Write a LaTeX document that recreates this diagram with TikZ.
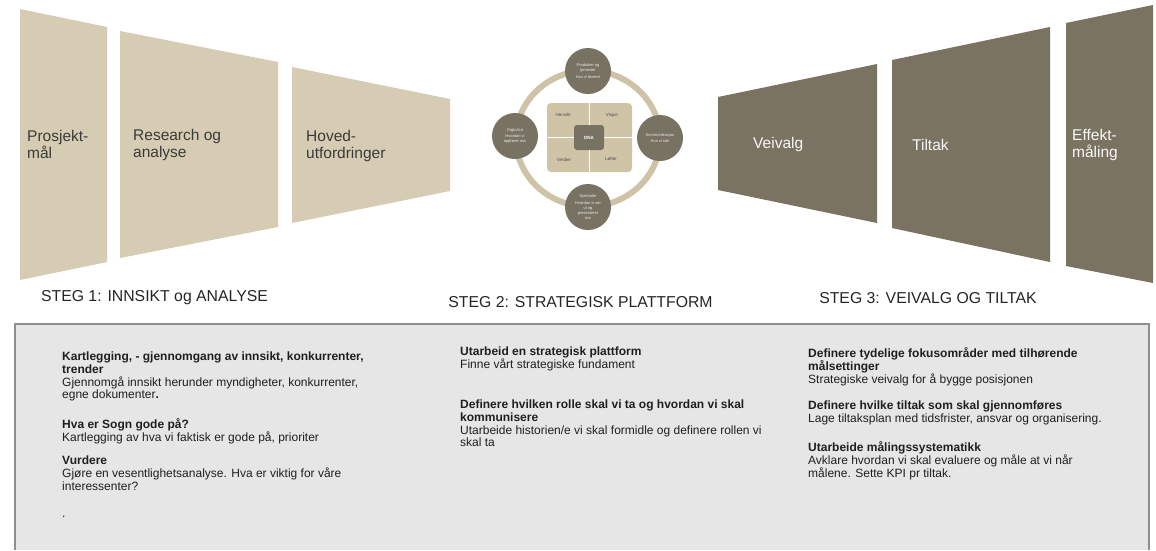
\documentclass[tikz,border=0pt]{standalone}
\usepackage{fontspec}
\setmainfont{Liberation Sans}
\definecolor{lighttan}{HTML}{D6CCB4}
\definecolor{darkolive}{HTML}{7A7361}
\definecolor{ringtan}{HTML}{CEC3A6}
\definecolor{circdark}{HTML}{787262}
\definecolor{innertan}{HTML}{CFC4A6}
\definecolor{boxfill}{HTML}{E6E6E6}
\definecolor{boxline}{HTML}{8F8F8F}
\definecolor{labeltext}{HTML}{3A3A3A}
\tikzset{
  traplight/.style={fill=lighttan, draw=none},
  trapdark/.style={fill=darkolive, draw=none},
  traptext/.style={anchor=west, align=left, inner sep=0pt, text=labeltext, font=\fontsize{15.5}{17}\selectfont},
  traptextw/.style={traptext, text=white!94!darkolive},
  steglabel/.style={inner sep=0pt, text=black!85, font=\fontsize{15.8}{18}\selectfont},
  satellite/.style={circle, fill=circdark, draw=none, minimum size=46pt, inner sep=0pt, align=center, text=white!92!black, font=\fontsize{4}{5}\selectfont},
  quadtext/.style={inner sep=0pt, text=black!70, font=\fontsize{4.5}{5}\selectfont},
  bodytext/.style={anchor=north west, align=left, inner sep=0pt, text=black!88, font=\fontsize{12}{12.8}\selectfont}
}
\begin{document}
\begin{tikzpicture}[x=1pt, y=-1pt]
\useasboundingbox (0,0) rectangle (1156,550);
\fill[white] (0,0) rectangle (1156,550);

% left trapezoids
\fill[traplight] (20,9) -- (107,27) -- (107,262) -- (20,280) -- cycle;
\fill[traplight] (120,31) -- (278,62) -- (278,227) -- (120,258) -- cycle;
\fill[traplight] (292,67) -- (450,99) -- (450,191) -- (292,223) -- cycle;
% right trapezoids
\fill[trapdark] (718,97) -- (877,64) -- (877,223) -- (718,190) -- cycle;
\fill[trapdark] (892,60) -- (1050,27) -- (1050,262) -- (892,228) -- cycle;
\fill[trapdark] (1066,23) -- (1153,5) -- (1153,283) -- (1066,266) -- cycle;

\node[traptext] (t1) at (27,144.5) {Prosjekt-\\mål};
\node[traptext] (t2) at (133,145) {Research og\\analyse};
\node[traptext] (t3) at (306,145.5) {Hoved-\\utfordringer};
\node[traptextw] (t4) at (753,144) {Veivalg};
\node[traptextw] (t5) at (912,145) {Tiltak};
\node[traptextw] (t6) at (1072,145) {Effekt-\\måling};

% center diagram
\draw[ringtan, line width=6pt] (588,138.5) ellipse [x radius=72pt, y radius=68pt];
\fill[innertan, rounded corners=4pt] (547,103) rectangle (632,172);
\draw[white, line width=1pt] (589.5,103) -- (589.5,172);
\draw[white, line width=1pt] (547,137.5) -- (632,137.5);
\fill[circdark, rounded corners=3pt] (574,125) rectangle (604,150);
\node[inner sep=0pt, text=white, font=\bfseries\fontsize{4.5}{5}\selectfont] (dna) at (589,137.5) {DNA};
\node[quadtext] (q1) at (563,115) {Hensikt};
\node[quadtext] (q2) at (612,115) {Visjon};
\node[quadtext] (q3) at (564,160) {Verdier};
\node[quadtext] (q4) at (611,159) {Løfter};

\node[satellite] (c1) at (588,71) {Produkter og\\tjenester\\[1.5pt]Hva vi leverer};
\node[satellite] (c2) at (660,138) {Kommunikasjon\\[1.5pt]Hva vi sier};
\node[satellite] (c3) at (588,207) {Symboler\\[1.5pt]Hvordan vi ser\\ut og\\presenterer\\oss};
\node[satellite] (c4) at (515,136) {Orgkultur\\[1.5pt]Hvordan vi\\oppfører oss};

% step labels
\node[steglabel] (s1) at (154.5,298) {STEG 1: INNSIKT og ANALYSE};
\node[steglabel] (s2) at (580.5,302.5) {STEG 2: STRATEGISK PLATTFORM};
\node[steglabel] (s3) at (928,298) {STEG 3: VEIVALG OG TILTAK};

% grey box
\fill[boxfill] (15,324) rectangle (1149,550);
\draw[boxline, line width=1.2pt] (15,550) -- (15,324) -- (1149,324) -- (1149,550);

% column 1
\node[bodytext] (a1) at (62,351.5) {\textbf{Kartlegging, - gjennomgang av innsikt, konkurrenter,}\\\textbf{trender}\\Gjennomgå innsikt herunder myndigheter, konkurrenter,\\egne dokumenter\textbf{.}};
\node[bodytext] (a2) at (62,418.5) {\textbf{Hva er Sogn gode på?}\\Kartlegging av hva vi faktisk er gode på, prioriter};
\node[bodytext] (a3) at (62,455.5) {\textbf{Vurdere}\\Gjøre en vesentlighetsanalyse. Hva er viktig for våre\\interessenter?};
\node[bodytext] (a4) at (62,516) {.};

% column 2
\node[bodytext] (b1) at (460,346.5) {\textbf{Utarbeid en strategisk plattform}\\Finne vårt strategiske fundament};
\node[bodytext] (b2) at (460,399.5) {\textbf{Definere hvilken rolle skal vi ta og hvordan vi skal}\\\textbf{kommunisere}\\Utarbeide historien/e vi skal formidle og definere rollen vi\\skal ta};

% column 3
\node[bodytext] (d1) at (808,347.5) {\textbf{Definere tydelige fokusområder med tilhørende}\\\textbf{målsettinger}\\Strategiske veivalg for å bygge posisjonen};
\node[bodytext] (d2) at (808,400.5) {\textbf{Definere hvilke tiltak som skal gjennomføres}\\Lage tiltaksplan med tidsfrister, ansvar og organisering.};
\node[bodytext] (d3) at (808,441.5) {\textbf{Utarbeide målingssystematikk}\\Avklare hvordan vi skal evaluere og måle at vi når\\målene. Sette KPI pr tiltak.};
\end{tikzpicture}
\end{document}
